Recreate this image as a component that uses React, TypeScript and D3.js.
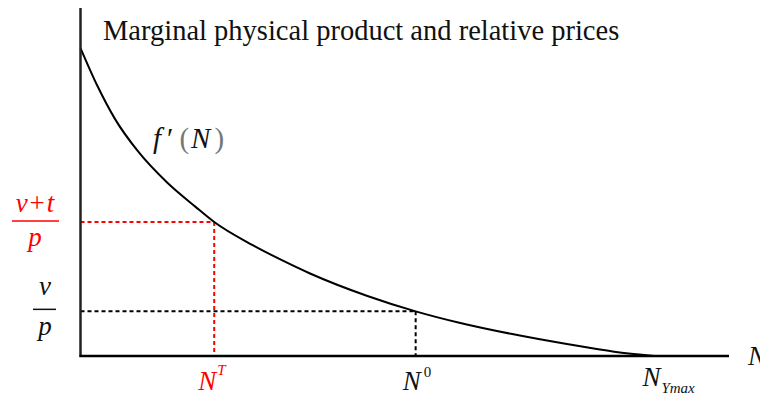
import React from "react";
import * as d3 from "d3";

// Marginal physical product curve f'(N): labour N vs. value
const curveN = [0, 0.3, 0.6, 1.0, 1.5, 2.0, 2.33, 3.0, 3.5, 4.0, 5.0, 5.84, 6.6, 7.5, 8.5, 9.3, 10];
const curveY = [10, 8.75, 7.7, 6.65, 5.65, 4.85, 4.35, 3.6, 3.12, 2.68, 1.95, 1.45, 1.08, 0.72, 0.38, 0.14, 0];

// Employment levels: with tax (v+t)/p and without v/p
const levelN = [2.33, 5.84];
const levelY = [4.35, 1.45];
const nMax = 10;

const W = 760;
const H = 396;
const FONT = "'Liberation Serif', 'DejaVu Serif', serif";

export default function App() {
  const x = d3.scaleLinear().domain([0, 11.3]).range([80.5, 729]);
  const y = d3.scaleLinear().domain([0, 11.3]).range([356, 8]);

  const pts: [number, number][] = curveN.map((n, i) => [n, curveY[i]]);
  const line = d3
    .line<[number, number]>()
    .x((d) => x(d[0]))
    .y((d) => y(d[1]))
    .curve(d3.curveMonotoneX);

  const [nT, n0] = levelN;
  const [yT, y0] = levelY;
  const red = "#ff0000";

  return (
    <svg
      width={W}
      height={H}
      viewBox={`0 0 ${W} ${H}`}
      style={{ position: "absolute", left: 0, top: 0, background: "#fff", fontFamily: FONT }}
    >
      {/* guide lines */}
      <line x1={x(0)} x2={x(nT)} y1={y(yT)} y2={y(yT)} stroke={red} strokeWidth={2} strokeDasharray="4,3" />
      <line x1={x(nT)} x2={x(nT)} y1={y(yT)} y2={y(0)} stroke={red} strokeWidth={2} strokeDasharray="4,3" />
      <line x1={x(0)} x2={x(n0)} y1={y(y0)} y2={y(y0)} stroke="#000" strokeWidth={2} strokeDasharray="4,3" />
      <line x1={x(n0)} x2={x(n0)} y1={y(y0)} y2={y(0)} stroke="#000" strokeWidth={2} strokeDasharray="4,3" />

      {/* curve */}
      <path d={line(pts) ?? ""} fill="none" stroke="#000" strokeWidth={2} />

      {/* axes */}
      <line x1={x(0)} x2={x(0)} y1={y(11.3)} y2={y(0) + 1} stroke="#222" strokeWidth={2.5} />
      <line x1={x(0) - 1} x2={x(11.3)} y1={y(0)} y2={y(0)} stroke="#000" strokeWidth={2.5} />

      {/* title */}
      <text x={103} y={40} fontSize={28.5} fill="#111" style={{ fontFamily: FONT }}>
        Marginal physical product and relative prices
      </text>

      {/* curve label */}
      <text x={153} y={148} fontSize={29} fill="#111" style={{ fontFamily: FONT }}>
        <tspan fontStyle="italic">f</tspan>
        <tspan dx={6}>′</tspan>
        <tspan dx={6} fill="#777">(</tspan>
        <tspan dx={2} fontStyle="italic">N</tspan>
        <tspan dx={4} fill="#777">)</tspan>
      </text>

      {/* y labels */}
      <g fill={red} fontSize={27} textAnchor="middle" style={{ fontFamily: FONT }}>
        <text x={35} y={y(yT) - 10}>
          <tspan fontStyle="italic">v</tspan>
          <tspan dx={2}>+</tspan>
          <tspan dx={2} fontStyle="italic">t</tspan>
        </text>
        <line x1={12} x2={59} y1={y(yT) - 1} y2={y(yT) - 1} stroke={red} strokeWidth={1.5} />
        <text x={35} y={y(yT) + 24} fontStyle="italic">p</text>
      </g>
      <g fill="#111" fontSize={27} textAnchor="middle" style={{ fontFamily: FONT }}>
        <text x={45} y={y(y0) - 16} fontStyle="italic">v</text>
        <line x1={33} x2={56} y1={y(y0) - 2} y2={y(y0) - 2} stroke="#111" strokeWidth={1.5} />
        <text x={45} y={y(y0) + 24} fontStyle="italic">p</text>
      </g>

      {/* x labels */}
      <g style={{ fontFamily: FONT }}>
        <text x={x(nT) - 16} y={390} fontSize={27} fill={red}>
          <tspan fontStyle="italic">N</tspan>
          <tspan dx={1} dy={-15} fontSize={15} fontStyle="italic">T</tspan>
        </text>
        <text x={x(n0) - 13} y={390} fontSize={27} fill="#111">
          <tspan fontStyle="italic">N</tspan>
          <tspan dx={3} dy={-13} fontSize={15}>0</tspan>
        </text>
        <text x={x(nMax) - 12} y={386} fontSize={27} fill="#111">
          <tspan fontStyle="italic">N</tspan>
          <tspan dx={1} dy={7} fontSize={15} fontStyle="italic">Ymax</tspan>
        </text>
        <text x={748} y={365} fontSize={27} fontStyle="italic" fill="#111">N</text>
      </g>
    </svg>
  );
}
